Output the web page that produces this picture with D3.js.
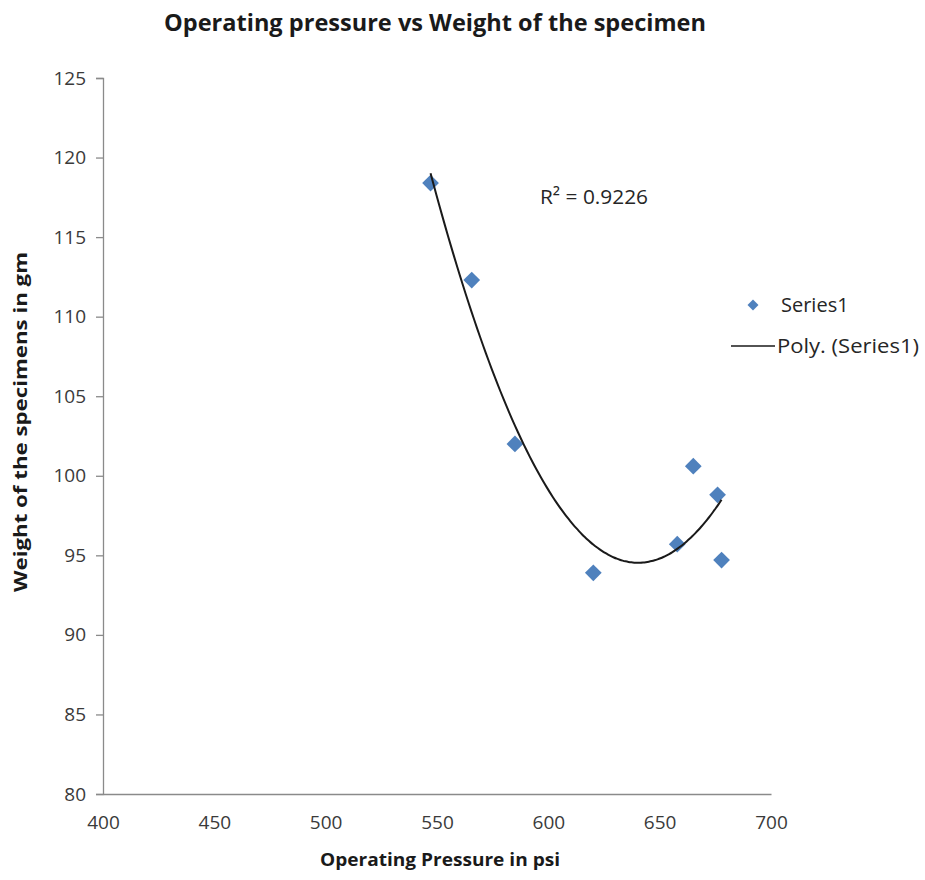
<!DOCTYPE html>
<html>
<head>
<meta charset="utf-8">
<script src="https://cdn.jsdelivr.net/npm/d3@7"></script>
<style>
  body { margin: 0; background: #fff; }
  svg { display: block; }
  text { font-family: "Open Sans", "Noto Sans", sans-serif; fill: #404040; }
</style>
</head>
<body>
<svg id="chart" width="925" height="880"></svg>
<script>
// Operating pressure (psi) and specimen weight (gm)
const pressure = [547.1, 565.6, 585.0, 620.2, 657.9, 665.1, 676.0, 677.8];
const weight   = [118.4, 112.3, 102.0, 93.9, 95.7, 100.6, 98.8, 94.7];
const xTicks = [400, 450, 500, 550, 600, 650, 700];
const yTicks = [80, 85, 90, 95, 100, 105, 110, 115, 120, 125];
const rSquaredLabel = "R² = 0.9226";

const svg = d3.select("#chart");
const margin = { left: 103, top: 78, right: 154, bottom: 86 };
const W = 925, H = 880;

const x = d3.scaleLinear().domain([400, 700]).range([margin.left, W - margin.right]);
const y = d3.scaleLinear().domain([80, 125]).range([H - margin.bottom, margin.top]);

// Title
svg.append("text")
  .attr("x", 435).attr("y", 31)
  .attr("text-anchor", "middle")
  .attr("font-size", 23).attr("font-weight", "bold")
  .attr("textLength", 542).attr("lengthAdjust", "spacingAndGlyphs")
  .style("fill", "#1a1a1a")
  .text("Operating pressure vs Weight of the specimen");

// Axes
const yAxis = svg.append("g")
  .attr("transform", `translate(${margin.left},0)`)
  .call(d3.axisLeft(y).tickValues(yTicks).tickSize(7).tickPadding(10).tickFormat(d3.format("d")));
const xAxis = svg.append("g")
  .attr("transform", `translate(0,${H - margin.bottom})`)
  .call(d3.axisBottom(x).tickValues(xTicks).tickSize(0).tickPadding(22).tickFormat(d3.format("d")));

[xAxis, yAxis].forEach(g => {
  g.attr("font-size", 19).attr("font-family", "'Open Sans', sans-serif");
  g.select(".domain").attr("stroke", "#8a8a8a").attr("stroke-width", 1.3);
  g.selectAll(".tick line").attr("stroke", "#8a8a8a").attr("stroke-width", 1.3);
  g.selectAll(".tick text").style("fill", "#3a3a3a");
});

// Axis titles
svg.append("text")
  .attr("x", 440).attr("y", 866)
  .attr("text-anchor", "middle")
  .attr("font-size", 18).attr("font-weight", "bold")
  .attr("textLength", 240).attr("lengthAdjust", "spacingAndGlyphs")
  .style("fill", "#1a1a1a")
  .text("Operating Pressure  in psi");

svg.append("text")
  .attr("transform", "translate(27,422) rotate(-90)")
  .attr("text-anchor", "middle")
  .attr("font-size", 18).attr("font-weight", "bold")
  .attr("textLength", 340).attr("lengthAdjust", "spacingAndGlyphs")
  .style("fill", "#1a1a1a")
  .text("Weight of the specimens in gm");

// Second-order polynomial least-squares trendline
function polyFit2(xs, ys) {
  const mx = d3.mean(xs);
  const u = xs.map(v => v - mx);
  const s = [0, 0, 0, 0, 0], t = [0, 0, 0];
  u.forEach((ui, i) => {
    for (let k = 0; k <= 4; k++) s[k] += Math.pow(ui, k);
    for (let k = 0; k <= 2; k++) t[k] += Math.pow(ui, k) * ys[i];
  });
  const A = [[s[0], s[1], s[2]], [s[1], s[2], s[3]], [s[2], s[3], s[4]]];
  const b = t.slice();
  for (let i = 0; i < 3; i++) {
    for (let j = i + 1; j < 3; j++) {
      const f = A[j][i] / A[i][i];
      for (let k = i; k < 3; k++) A[j][k] -= f * A[i][k];
      b[j] -= f * b[i];
    }
  }
  const c = [0, 0, 0];
  for (let i = 2; i >= 0; i--) {
    let sum = b[i];
    for (let k = i + 1; k < 3; k++) sum -= A[i][k] * c[k];
    c[i] = sum / A[i][i];
  }
  return v => c[0] + c[1] * (v - mx) + c[2] * (v - mx) * (v - mx);
}
const fit = polyFit2(pressure, weight);
const [xmin, xmax] = d3.extent(pressure);
const curve = d3.range(0, 101).map(i => {
  const v = xmin + (xmax - xmin) * i / 100;
  return [v, fit(v)];
});

// Points
const diamond = d3.symbol().type(d3.symbolSquare).size(140);
svg.append("g").selectAll("path")
  .data(pressure.map((p, i) => [p, weight[i]]))
  .join("path")
  .attr("d", diamond)
  .attr("transform", d => `translate(${x(d[0])},${y(d[1])}) rotate(45)`)
  .attr("fill", "#4f81bd");

svg.append("path")
  .datum(curve)
  .attr("fill", "none")
  .attr("stroke", "#1a1a1a")
  .attr("stroke-width", 2)
  .attr("d", d3.line().x(d => x(d[0])).y(d => y(d[1])).curve(d3.curveMonotoneX));

// R² label
svg.append("text")
  .attr("x", 540).attr("y", 204)
  .attr("font-size", 20)
  .attr("textLength", 108).attr("lengthAdjust", "spacingAndGlyphs")
  .style("fill", "#262626")
  .text(rSquaredLabel);

// Legend
const legend = svg.append("g");
legend.append("path")
  .attr("d", d3.symbol().type(d3.symbolSquare).size(60))
  .attr("transform", "translate(753,305) rotate(45)")
  .attr("fill", "#4f81bd");
legend.append("text").attr("x", 781).attr("y", 312).attr("font-size", 20)
  .style("fill", "#262626").text("Series1");
legend.append("line")
  .attr("x1", 731).attr("x2", 775).attr("y1", 346).attr("y2", 346)
  .attr("stroke", "#1a1a1a").attr("stroke-width", 1.5);
legend.append("text").attr("x", 777).attr("y", 353).attr("font-size", 20)
  .attr("textLength", 142).attr("lengthAdjust", "spacingAndGlyphs")
  .style("fill", "#262626").text("Poly. (Series1)");
</script>
</body>
</html>
